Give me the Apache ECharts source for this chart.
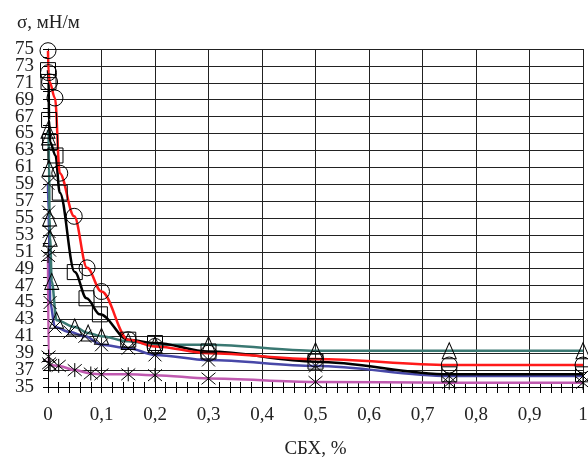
<!DOCTYPE html>
<html><head><meta charset="utf-8">
<script src="https://cdn.jsdelivr.net/npm/echarts/dist/echarts.min.js"></script>
<style>html,body{margin:0;padding:0;background:#fff}#c{width:588px;height:461px}</style>
</head><body><div id="c"></div>
<script>
// ---- data ----
const xTickLabels = ['0','0,1','0,2','0,3','0,4','0,5','0,6','0,7','0,8','0,9','1'];
const yTickLabels = ['35','37','39','41','43','45','47','49','51','53','55','57','59','61','63','65','67','69','71','73','75'];

const redX = [0, 0.001, 0.003, 0.013, 0.022, 0.049, 0.073, 0.1, 0.15, 0.2, 0.3, 0.5, 0.75, 1];
const redY = [74.8, 72.2, 71.1, 69.2, 60.3, 55.2, 49.1, 46.3, 40.6, 39.8, 39.0, 38.3, 37.6, 37.6];

const blackX = [0, 0.001, 0.002, 0.004, 0.014, 0.022, 0.05, 0.072, 0.097, 0.15, 0.2, 0.3, 0.5, 0.75, 1];
const blackY = [72.5, 71.1, 66.6, 64.0, 62.4, 58.0, 48.6, 45.5, 43.6, 40.6, 40.2, 39.2, 38.0, 36.5, 36.5];

const tealX = [0, 0.001, 0.002, 0.003, 0.004, 0.007, 0.016, 0.05, 0.075, 0.1, 0.15, 0.2, 0.3, 0.5, 0.75, 1];
const tealY = [65.4, 64.6, 60.9, 55.0, 52.6, 47.5, 42.9, 42.1, 41.4, 41.0, 40.4, 40.0, 40.0, 39.3, 39.3, 39.3];

const blueX = [0, 0.001, 0.002, 0.003, 0.004, 0.013, 0.041, 0.069, 0.1, 0.15, 0.2, 0.3, 0.5, 0.75, 1];
const blueY = [59.1, 55.7, 53.4, 51.2, 45.0, 42.1, 41.5, 41.0, 40.0, 39.6, 38.8, 38.2, 37.5, 36.3, 36.3];

const magX = [0, 0.001, 0.002, 0.004, 0.02, 0.05, 0.08, 0.1, 0.15, 0.2, 0.3, 0.5, 0.75, 1];
const magY = [50.5, 38.6, 37.8, 37.6, 37.5, 37.0, 36.6, 36.5, 36.5, 36.4, 36.0, 35.6, 35.5, 35.5];

// ---- chart ----
const FONT = 'Liberation Serif';
const pairs = (xs, ys) => xs.map((x, i) => [x, ys[i]]);
const CROSS = 'path://M0,0L10,10M10,0L0,10';
const STAR = 'path://M0,0L10,10M10,0L0,10M5,-1L5,11';
const Y_MIN = 35, Y_MAX = 75;
const TOP = 49, BOTTOM = 74, PLOT_H = 461 - TOP - BOTTOM;
const PX2 = PLOT_H / (Y_MAX - Y_MIN) * 2; // pixels for 2 units (shift of helper grid)
const yLab = v => {
  const i = Math.round((v - Y_MIN) / 2);
  return (v >= Y_MIN - 0.01 && v <= Y_MAX + 0.01) ? yTickLabels[i] : '';
};

function mk(name, xs, ys, color, symbol, size) {
  return {
    name, type: 'line', data: pairs(xs, ys), smooth: 0.35, smoothMonotone: 'x',
    xAxisIndex: 0, yAxisIndex: 0,
    clip: false, symbol, symbolSize: size, showAllSymbol: true,
    lineStyle: { color, width: 2.5 },
    itemStyle: { color: 'rgba(0,0,0,0)', borderColor: '#000', borderWidth: 1 },
    emphasis: { disabled: true }, z: 3
  };
}
const labelStyle = { fontFamily: FONT, fontSize: 19, color: '#222', margin: 14 };

const chart = echarts.init(document.getElementById('c'), null, { renderer: 'canvas' });
chart.setOption({
  animation: false,
  backgroundColor: '#fff',
  textStyle: { fontFamily: FONT },
  grid: [
    { left: 48, right: 5, top: TOP, bottom: BOTTOM, containLabel: false, outerBoundsMode: 'none' },
    { left: 48, right: 5, top: TOP - PX2, bottom: BOTTOM - PX2, containLabel: false, outerBoundsMode: 'none' }
  ],
  xAxis: [{
    gridIndex: 0, type: 'value', min: 0, max: 1, interval: 0.1,
    name: 'СБХ, %', nameLocation: 'middle', nameGap: 53,
    nameTextStyle: { fontFamily: FONT, fontSize: 19, color: '#222' },
    axisLine: { show: true, lineStyle: { color: '#000', width: 1 } },
    axisTick: { show: true, length: 6, lineStyle: { color: '#000' } },
    minorTick: { show: true, splitNumber: 5, length: 6, lineStyle: { color: '#000' } },
    axisLabel: { fontFamily: FONT, fontSize: 19, color: '#222', margin: 19,
      formatter: v => xTickLabels[Math.round(v * 10)] },
    splitLine: { show: true, lineStyle: { color: '#222', width: 1 } }
  }, {
    gridIndex: 0, type: 'value', min: 0, max: 1, interval: 0.1, position: 'bottom',
    axisLine: { show: false }, axisLabel: { show: false }, splitLine: { show: false },
    axisTick: { show: true, inside: true, length: 5, lineStyle: { color: '#000' } },
    minorTick: { show: true, splitNumber: 5, length: 5, lineStyle: { color: '#000' } }
  }, {
    gridIndex: 1, type: 'value', min: 0, max: 1, show: false
  }],
  yAxis: [{
    gridIndex: 0, type: 'value', min: Y_MIN, max: Y_MAX, interval: 2,
    name: 'σ, мН/м', nameLocation: 'end', nameGap: 16,
    nameTextStyle: { fontFamily: FONT, fontSize: 19, color: '#222', align: 'left', padding: [0, 0, 0, -31] },
    axisLine: { show: true, lineStyle: { color: '#000', width: 1 } },
    axisTick: { show: true, length: 5, lineStyle: { color: '#000' } },
    minorTick: { show: true, splitNumber: 2, length: 5, lineStyle: { color: '#000' } },
    axisLabel: { show: false },
    splitLine: { show: true, lineStyle: { color: '#222', width: 1 } }
  }, {
    // labels 35, 39, ..., 75
    gridIndex: 0, type: 'value', min: Y_MIN, max: Y_MAX, interval: 4, position: 'left',
    axisLine: { show: false }, axisTick: { show: false }, splitLine: { show: false },
    axisLabel: Object.assign({ formatter: yLab }, labelStyle)
  }, {
    // labels 37, 41, ..., 73 (helper grid shifted by 2 units)
    gridIndex: 1, type: 'value', min: Y_MIN - 2, max: Y_MAX + 2, interval: 4, position: 'left',
    axisLine: { show: false }, axisTick: { show: false }, splitLine: { show: false },
    axisLabel: Object.assign({ formatter: yLab }, labelStyle)
  }],
  series: [
    mk('magenta', magX, magY, '#c05ab0', STAR, 14),
    mk('blue', blueX, blueY, '#4848a8', CROSS, 13),
    mk('teal', tealX, tealY, '#3a7872', 'triangle', [14, 16]),
    mk('black', blackX, blackY, '#000000', 'rect', 15),
    mk('red', redX, redY, '#ff1a1a', 'circle', 16)
  ]
});
</script></body></html>
